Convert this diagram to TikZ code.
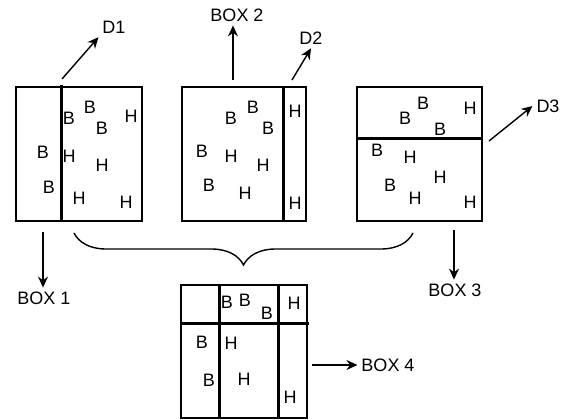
\documentclass[tikz,border=0pt]{standalone}
\usepackage{fontspec}
\setmainfont{Liberation Sans}
\usetikzlibrary{arrows.meta,decorations.pathreplacing}
\begin{document}
\begin{tikzpicture}[
  x=1pt,y=-1pt,every node/.style={font=\fontsize{18}{20}\selectfont},
  every path/.style={line width=1.4pt},
  box/.style={draw,rectangle,inner sep=0pt,minimum height=134pt},
  wall/.style={line width=3pt},
  ltr/.style={inner sep=0pt},
  flow/.style={-{Stealth[length=11pt,width=10pt]}}]
  \useasboundingbox (0,0) rectangle (565,420);

  % the three boxes on top, then the merged one below
  \node[box,minimum width=126pt] (box1) at (79,154) {};
  \node[box,minimum width=124pt] (box2) at (244,154) {};
  \node[box,minimum width=125pt] (box3) at (419.5,154) {};
  \node[box,minimum width=126pt,minimum height=133pt] (box4) at (244,351.5) {};

  % partition walls
  \draw[wall] (61,85) -- (61,221);
  \draw[wall] (283,87) -- (283,221);
  \draw[wall] (356,138) -- (483,138);
  \draw[wall] (219,284) -- (219,418) (278,285) -- (278,418);
  \draw[wall] (180,323) -- (309,323);

  % particles
  \foreach \x/\y/\t [count=\n] in {43/152/B,49/187/B,69/118/B,90/107/B,
    102/128/B,131/116/H,69/156/H,102/165/H,79/198/H,126/202/H}
    \node[ltr] (pa\n) at (\x,\y) {\t};
  \foreach \x/\y/\t [count=\n] in {231/118/B,253/107/B,268/128/B,202/151/B,
    231/156/H,263/165/H,209/185/B,245/193/H,295/111/H,295/203/H}
    \node[ltr] (pb\n) at (\x,\y) {\t};
  \foreach \x/\y/\t [count=\n] in {423/103/B,405/118/B,440/129/B,470/108/H,
    377/150/B,410/157/H,440/177/H,390/185/B,415/198/H,470/202/H}
    \node[ltr] (pc\n) at (\x,\y) {\t};
  \foreach \x/\y/\t [count=\n] in {227/302/B,245/300/B,267/313/B,294/303/H,
    202/342/B,231/343/H,209/380/B,244/379/H,290/397/H}
    \node[ltr] (pd\n) at (\x,\y) {\t};

  % labels
  \node (d1) at (114,27) {D1};
  \node (d2) at (311,38) {D2};
  \node (d3) at (548,106) {D3};
  \node (lbox1) at (44,298) {BOX 1};
  \node (lbox2) at (237,15) {BOX 2};
  \node (lbox3) at (455,290) {BOX 3};
  \node (lbox4) at (388,365) {BOX 4};

  \coordinate (s1) at (62,79);
  \coordinate (s2) at (292,80);
  \coordinate (s3) at (489,141);
  \coordinate (t1) at (43,232);
  \coordinate (t2) at (233,80);
  \coordinate (t3) at (454,230);
  \coordinate (t4) at (312,365);

  \draw[flow] (s1) -- (d1.south west);
  \draw[flow] (s2) -- (d2.south);
  \draw[flow] (s3) -- (d3.west);
  \draw[flow] (t1) -- (t1 |- lbox1.north);
  \draw[flow] (t2) -- (t2 |- lbox2.south);
  \draw[flow] (t3) -- (t3 |- lbox3.north);
  \draw[flow] (t4) -- (lbox4);

  % the three boxes together make box 4
  \coordinate (bl) at (74,233);
  \coordinate (br) at (413,233);
  \draw[decorate,decoration={brace,mirror,amplitude=32pt}] (bl) -- (br);
\end{tikzpicture}
\end{document}
